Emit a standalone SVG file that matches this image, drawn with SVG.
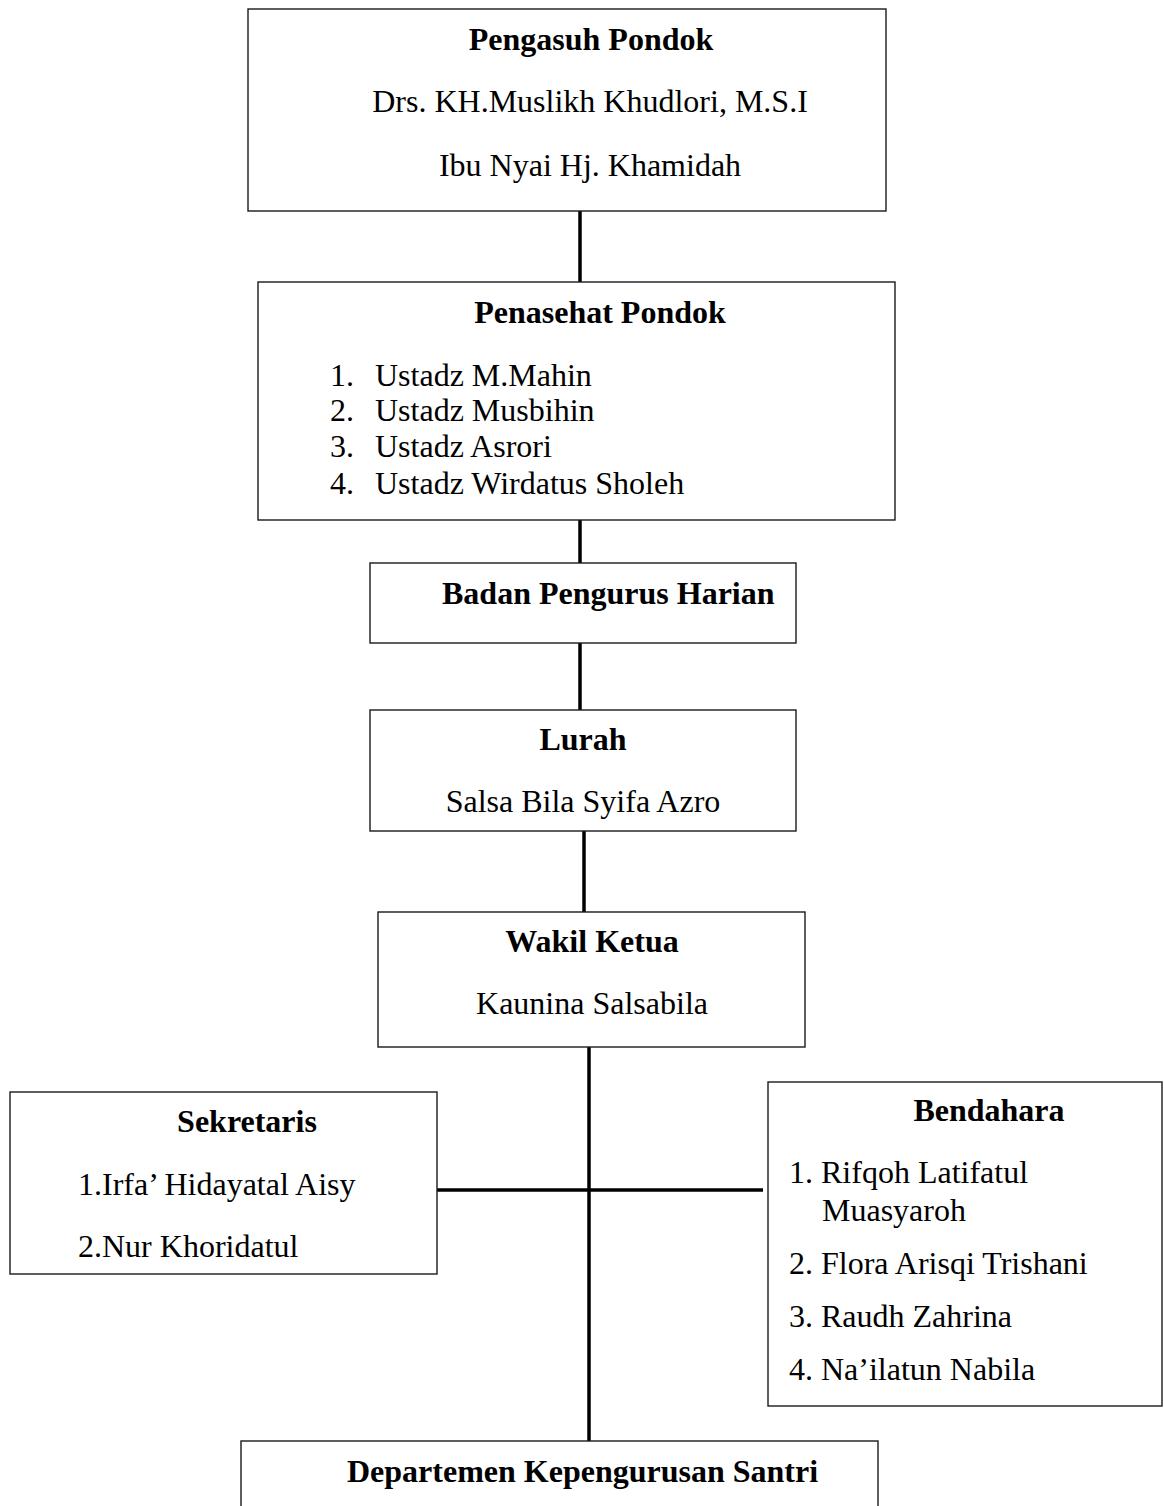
<svg xmlns="http://www.w3.org/2000/svg" width="1164" height="1506" viewBox="0 0 1164 1506">
<style>
.box{fill:#fff;stroke:#1a1a1a;stroke-width:1.4}
.t{font-family:"Liberation Serif","Times New Roman",serif;font-size:32px;fill:#000}
.b{font-weight:bold}
.c{stroke:#000;stroke-width:3.5;fill:none}
</style>
<rect width="1164" height="1506" fill="#fff"/>
<g id="connectors">
<line class="c" x1="580" y1="211" x2="580" y2="282"/>
<line class="c" x1="580" y1="520" x2="580" y2="563"/>
<line class="c" x1="580" y1="643" x2="580" y2="710"/>
<line class="c" x1="584" y1="831" x2="584" y2="912"/>
<line class="c" x1="589" y1="1047" x2="589" y2="1441" stroke-width="4"/>
<line class="c" x1="437" y1="1190" x2="763" y2="1190"/>
</g>
<g id="pengasuh">
<rect class="box" x="248" y="9" width="638" height="202"/>
<text class="t b" x="591" y="50" text-anchor="middle">Pengasuh Pondok</text>
<text class="t" x="590" y="112" text-anchor="middle">Drs. KH.Muslikh Khudlori, M.S.I</text>
<text class="t" x="590" y="176" text-anchor="middle">Ibu Nyai Hj. Khamidah</text>
</g>
<g id="penasehat">
<rect class="box" x="258" y="282" width="637" height="238"/>
<text class="t b" x="600" y="323" text-anchor="middle">Penasehat Pondok</text>
<text class="t" x="330" y="386">1.</text><text class="t" x="375" y="386">Ustadz M.Mahin</text>
<text class="t" x="330" y="421">2.</text><text class="t" x="375" y="421">Ustadz Musbihin</text>
<text class="t" x="330" y="457">3.</text><text class="t" x="375" y="457">Ustadz Asrori</text>
<text class="t" x="330" y="494">4.</text><text class="t" x="375" y="494">Ustadz Wirdatus Sholeh</text>
</g>
<g id="bph">
<rect class="box" x="370" y="563" width="426" height="80"/>
<text class="t b" x="442" y="604">Badan Pengurus Harian</text>
</g>
<g id="lurah">
<rect class="box" x="370" y="710" width="426" height="121"/>
<text class="t b" x="583" y="750" text-anchor="middle">Lurah</text>
<text class="t" x="583" y="812" text-anchor="middle">Salsa Bila Syifa Azro</text>
</g>
<g id="wakil">
<rect class="box" x="378" y="912" width="427" height="135"/>
<text class="t b" x="592" y="952" text-anchor="middle">Wakil Ketua</text>
<text class="t" x="592" y="1014" text-anchor="middle">Kaunina Salsabila</text>
</g>
<g id="sekretaris">
<rect class="box" x="10" y="1092" width="427" height="182"/>
<text class="t b" x="247" y="1132" text-anchor="middle">Sekretaris</text>
<text class="t" x="78" y="1195">1.Irfa’ Hidayatal Aisy</text>
<text class="t" x="78" y="1257">2.Nur Khoridatul</text>
</g>
<g id="bendahara">
<rect class="box" x="768" y="1082" width="394" height="324"/>
<text class="t b" x="989" y="1121" text-anchor="middle">Bendahara</text>
<text class="t" x="789" y="1183">1. Rifqoh Latifatul</text>
<text class="t" x="822" y="1221">Muasyaroh</text>
<text class="t" x="789" y="1274">2. Flora Arisqi Trishani</text>
<text class="t" x="789" y="1327">3. Raudh Zahrina</text>
<text class="t" x="789" y="1380">4. Na’ilatun Nabila</text>
</g>
<g id="departemen">
<rect class="box" x="241" y="1441" width="637" height="80"/>
<text class="t b" x="347" y="1482">Departemen Kepengurusan Santri</text>
</g>
</svg>
